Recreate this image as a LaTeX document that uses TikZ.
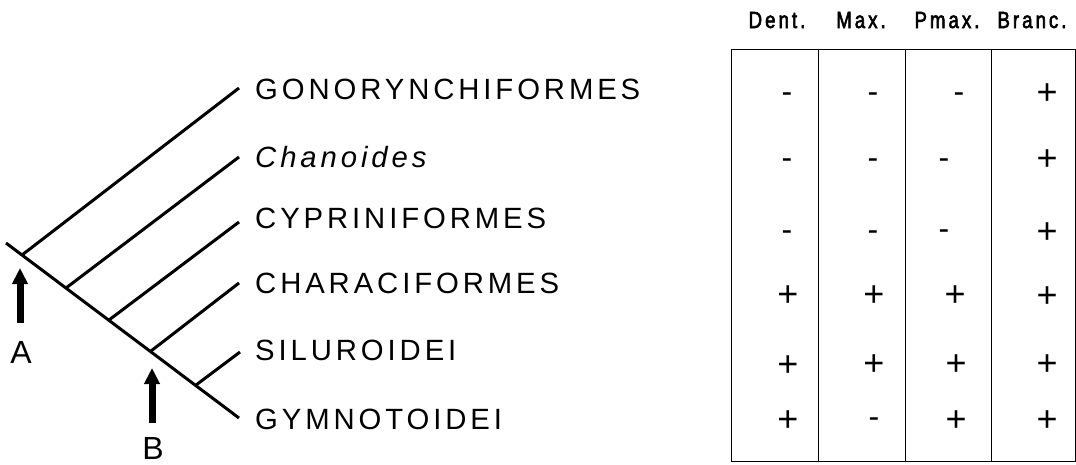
\documentclass[tikz,border=0pt]{standalone}
\usepackage{fontspec}
\setmainfont{Liberation Sans}
\newfontfamily\lblfont[LetterSpace=13.3]{Liberation Sans}
\newfontfamily\hdrfont[FakeStretch=0.8,LetterSpace=13,FakeBold=2.5]{Liberation Sans}
\usetikzlibrary{arrows.meta}
\begin{document}
\begin{tikzpicture}[x=1pt,y=-1pt,
  tree/.style={line width=3pt},
  gridline/.style={line width=1pt},
  uparrow/.style={line width=7pt,-{Triangle[width=15pt,length=16pt]}},
  taxon/.style={anchor=base west,inner sep=0pt,font=\lblfont\fontsize{29.3}{30}\selectfont},
  letterlbl/.style={anchor=base,inner sep=0pt,font=\fontsize{32}{34}\selectfont},
  hdr/.style={anchor=base,inner sep=0pt,font=\hdrfont\fontsize{23.3}{24}\selectfont},
  plussym/.style={anchor=center,inner sep=0pt,text height=25.3pt,text depth=0pt,font=\fontsize{36}{36}\selectfont},
  minussym/.style={anchor=center,inner sep=0pt,text height=17pt,text depth=0pt,font=\fontsize{32}{32}\selectfont}]
\useasboundingbox (0,0) rectangle (1076,464);
% ---- cladogram ----
\coordinate (root) at (6,243);
\coordinate (tipGy) at (239,418);
\coordinate (b1) at (22,255);
\coordinate (b2) at (66,288);
\coordinate (b3) at (109,320);
\coordinate (b4) at (151,351);
\coordinate (b5) at (196,385);
\coordinate (t1) at (239,88);
\coordinate (t2) at (239,157);
\coordinate (t3) at (239,222);
\coordinate (t4) at (239,283);
\coordinate (t5) at (240,352);
\draw[tree] (root) -- (tipGy);
\draw[tree] (b1) -- (t1);
\draw[tree] (b2) -- (t2);
\draw[tree] (b3) -- (t3);
\draw[tree] (b4) -- (t4);
\draw[tree] (b5) -- (t5);
\node[taxon] (gono) at (255,99) {GONORYNCHIFORMES};
\node[taxon] (chan) at (255,167) {\itshape Chanoides};
\node[taxon] (cypr) at (255,228) {CYPRINIFORMES};
\node[taxon] (chara) at (255,293) {CHARACIFORMES};
\node[taxon] (silu) at (255,360) {SILUROIDEI};
\node[taxon] (gymno) at (255,429) {GYMNOTOIDEI};
% ---- arrows A and B ----
\coordinate (Abot) at (20,323);
\coordinate (Atip) at (20,268);
\coordinate (Bbot) at (152,423);
\coordinate (Btip) at (152,368);
\draw[uparrow] (Abot) -- (Atip);
\draw[uparrow] (Bbot) -- (Btip);
\node[letterlbl] (lblA) at (21,363) {A};
\node[letterlbl] (lblB) at (153,459) {B};
% ---- table ----
\node[hdr] (hDent) at (777,28) {Dent.};
\node[hdr] (hMax) at (861,28) {Max.};
\node[hdr] (hPmax) at (947,28) {Pmax.};
\node[hdr] (hBranc) at (1032,28) {Branc.};
\draw[gridline] (731,49) rectangle (1075,461);
\draw[gridline] (818,49) -- (818,461);
\draw[gridline] (905,49) -- (905,461);
\draw[gridline] (991,49) -- (991,461);
% row 1
\node[minussym] (c11) at (787,94) {-};
\node[minussym] (c12) at (873,94) {-};
\node[minussym] (c13) at (959,94) {-};
\node[plussym] (c14) at (1047,92) {+};
% row 2
\node[minussym] (c21) at (787,160) {-};
\node[minussym] (c22) at (873,160) {-};
\node[minussym] (c23) at (944,160) {-};
\node[plussym] (c24) at (1047,158) {+};
% row 3
\node[minussym] (c31) at (787,232) {-};
\node[minussym] (c32) at (873,232) {-};
\node[minussym] (c33) at (944,231) {-};
\node[plussym] (c34) at (1047,231) {+};
% row 4
\node[plussym] (c41) at (788,294) {+};
\node[plussym] (c42) at (874,294) {+};
\node[plussym] (c43) at (955,294) {+};
\node[plussym] (c44) at (1047,295) {+};
% row 5
\node[plussym] (c51) at (788,364) {+};
\node[plussym] (c52) at (874,363) {+};
\node[plussym] (c53) at (956,363) {+};
\node[plussym] (c54) at (1047,363) {+};
% row 6
\node[plussym] (c61) at (788,419) {+};
\node[minussym] (c62) at (874,419) {-};
\node[plussym] (c63) at (956,419) {+};
\node[plussym] (c64) at (1047,419) {+};
\end{tikzpicture}
\end{document}
